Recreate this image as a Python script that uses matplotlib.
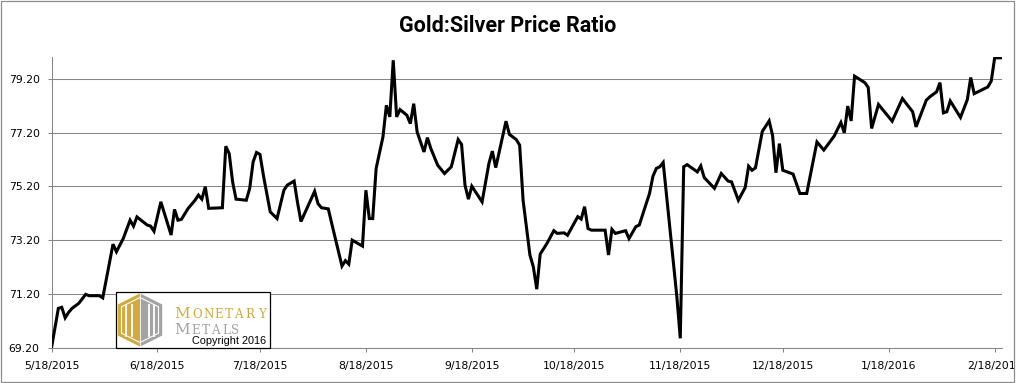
import matplotlib
matplotlib.use("Agg")
import matplotlib.pyplot as plt
from matplotlib.patches import Polygon, Rectangle
import numpy as np
import pandas as pd

# ---------------- data ----------------
dates = [
    "2015-05-18", "2015-05-20", "2015-05-21", "2015-05-22", "2015-05-23", "2015-05-24",
    "2015-05-26", "2015-05-28", "2015-05-29", "2015-06-01", "2015-06-02", "2015-06-05",
    "2015-06-06", "2015-06-08", "2015-06-10", "2015-06-11", "2015-06-12", "2015-06-15",
    "2015-06-16", "2015-06-17", "2015-06-19", "2015-06-22", "2015-06-23", "2015-06-24",
    "2015-06-25", "2015-06-27", "2015-06-29", "2015-06-30", "2015-07-01", "2015-07-02",
    "2015-07-03", "2015-07-07", "2015-07-08", "2015-07-09", "2015-07-10", "2015-07-11",
    "2015-07-14", "2015-07-15", "2015-07-16", "2015-07-17", "2015-07-18", "2015-07-19",
    "2015-07-21", "2015-07-23", "2015-07-25", "2015-07-26", "2015-07-28", "2015-07-29",
    "2015-07-30", "2015-08-03", "2015-08-04", "2015-08-05", "2015-08-07", "2015-08-08",
    "2015-08-11", "2015-08-12", "2015-08-13", "2015-08-14", "2015-08-17", "2015-08-18",
    "2015-08-19", "2015-08-20", "2015-08-21", "2015-08-23", "2015-08-24", "2015-08-25",
    "2015-08-26", "2015-08-27", "2015-08-28", "2015-08-30", "2015-08-31", "2015-09-01",
    "2015-09-02", "2015-09-04", "2015-09-05", "2015-09-06", "2015-09-08", "2015-09-10",
    "2015-09-12", "2015-09-14", "2015-09-15", "2015-09-16", "2015-09-17", "2015-09-18",
    "2015-09-21", "2015-09-23", "2015-09-24", "2015-09-25", "2015-09-28", "2015-09-29",
    "2015-10-01", "2015-10-02", "2015-10-03", "2015-10-05", "2015-10-06", "2015-10-07",
    "2015-10-08", "2015-10-10", "2015-10-12", "2015-10-13", "2015-10-15", "2015-10-16",
    "2015-10-19", "2015-10-20", "2015-10-21", "2015-10-22", "2015-10-23", "2015-10-27",
    "2015-10-28", "2015-10-29", "2015-10-30", "2015-11-02", "2015-11-03", "2015-11-05",
    "2015-11-06", "2015-11-09", "2015-11-10", "2015-11-11", "2015-11-12", "2015-11-13",
    "2015-11-17", "2015-11-18", "2015-11-19", "2015-11-20", "2015-11-23", "2015-11-24",
    "2015-11-25", "2015-11-28", "2015-11-30", "2015-12-02", "2015-12-03", "2015-12-05",
    "2015-12-07", "2015-12-08", "2015-12-09", "2015-12-10", "2015-12-12", "2015-12-14",
    "2015-12-15", "2015-12-16", "2015-12-17", "2015-12-18", "2015-12-21", "2015-12-23",
    "2015-12-25", "2015-12-28", "2015-12-30", "2016-01-02", "2016-01-04", "2016-01-05",
    "2016-01-06", "2016-01-07", "2016-01-08", "2016-01-11", "2016-01-12", "2016-01-13",
    "2016-01-15", "2016-01-19", "2016-01-22", "2016-01-25", "2016-01-26", "2016-01-29",
    "2016-01-30", "2016-02-01", "2016-02-02", "2016-02-03", "2016-02-04", "2016-02-05",
    "2016-02-08", "2016-02-10", "2016-02-11", "2016-02-12", "2016-02-16", "2016-02-17",
    "2016-02-18", "2016-02-20",
]
ratio = [
    69.22, 70.68, 70.72, 70.33, 70.53, 70.68,
    70.87, 71.20, 71.15, 71.15, 71.07, 73.06,
    72.78, 73.27, 73.95, 73.73, 74.07, 73.77,
    73.73, 73.54, 74.63, 73.40, 74.35, 73.95,
    73.98, 74.39, 74.69, 74.88, 74.73, 75.19,
    74.39, 74.41, 76.69, 76.42, 75.37, 74.73,
    74.69, 75.13, 76.11, 76.46, 76.39, 75.62,
    74.26, 74.01, 75.06, 75.25, 75.40, 74.60,
    73.90, 75.02, 74.56, 74.41, 74.37, 73.83,
    72.25, 72.45, 72.32, 73.21, 72.99, 75.06,
    74.01, 74.01, 75.87, 77.04, 78.21, 77.78,
    79.88, 77.78, 78.05, 77.84, 77.53, 78.27,
    77.22, 76.48, 77.01, 76.61, 75.99, 75.68,
    75.93, 76.94, 76.76, 75.25, 74.73, 75.21,
    74.63, 76.05, 76.51, 75.90, 77.62, 77.13,
    76.94, 76.73, 74.69, 72.66, 72.22, 71.39,
    72.69, 73.09, 73.56, 73.46, 73.48, 73.39,
    74.08, 73.99, 74.45, 73.64, 73.58, 73.58,
    72.66, 73.61, 73.46, 73.56, 73.27, 73.71,
    73.77, 74.94, 75.58, 75.87, 75.93, 76.09,
    71.11, 69.57, 75.93, 76.01, 75.74, 75.96,
    75.53, 75.13, 75.68, 75.40, 75.37, 74.69,
    75.16, 75.95, 75.80, 75.89, 77.24, 77.63,
    77.10, 75.71, 76.79, 75.80, 75.66, 74.94,
    74.94, 76.85, 76.55, 77.06, 77.57, 77.19,
    78.18, 77.63, 79.29, 79.05, 78.87, 77.35,
    78.24, 77.62, 78.46, 77.97, 77.41, 78.40,
    78.52, 78.71, 79.05, 77.93, 77.97, 78.37,
    77.76, 78.42, 79.24, 78.64, 78.89, 79.11,
    79.97, 79.97,
]
x_tick_dates = ["2015-05-18", "2015-06-18", "2015-07-18", "2015-08-18", "2015-09-18",
                "2015-10-18", "2015-11-18", "2015-12-18", "2016-01-18", "2016-02-18"]
x_tick_labels = ["5/18/2015", "6/18/2015", "7/18/2015", "8/18/2015", "9/18/2015",
                 "10/18/2015", "11/18/2015", "12/18/2015", "1/18/2016", "2/18/2016"]
y_ticks = [69.20, 71.20, 73.20, 75.20, 77.20, 79.20]
y_tick_labels = ["69.20", "71.20", "73.20", "75.20", "77.20", "79.20"]
title = "Gold:Silver Price Ratio"

# ---------------- figure ----------------
W, H = 1016, 383
fig = plt.figure(figsize=(W / 100, H / 100), dpi=100)
fig.patch.set_facecolor("white")

L, R, T, B = 51.5, 1001.5, 57.0, 348.3
ax = fig.add_axes([L / W, 1 - B / H, (R - L) / W, (B - T) / H])

grid_c = "#868686"
xd = pd.to_datetime(dates)
ax.plot(xd, ratio, color="black", lw=2.2, solid_joinstyle="miter", zorder=3)

ax.set_xlim(pd.Timestamp("2015-05-18"), pd.Timestamp("2016-02-20"))
ax.set_ylim(69.2, 80.0)

ax.set_yticks(y_ticks)
ax.set_yticklabels(y_tick_labels)
ax.set_xticks(pd.to_datetime(x_tick_dates))
ax.set_xticklabels(x_tick_labels)

ax.grid(axis="y", color=grid_c, lw=0.75, zorder=1)
for s in ["top", "right"]:
    ax.spines[s].set_visible(False)
for s in ["left", "bottom"]:
    ax.spines[s].set_color(grid_c)
    ax.spines[s].set_linewidth(0.75)
ax.tick_params(axis="both", color=grid_c, width=0.75, length=3.0,
               labelsize=7.8, labelcolor="black")
ax.tick_params(axis="y", pad=5.5)
ax.tick_params(axis="x", pad=6.5)
for lab in ax.get_xticklabels() + ax.get_yticklabels():
    lab.set_fontfamily("DejaVu Sans")

fig.text(508 / W, 1 - 26.5 / H, title, ha="center", va="center",
         fontsize=15.5, fontweight="bold", family="Roboto")

# ---------------- overlay (logo + border) ----------------
ov = fig.add_axes([0, 0, 1, 1], zorder=10)
ov.set_xlim(0, W)
ov.set_ylim(H, 0)
ov.axis("off")
ov.patch.set_alpha(0)

# logo box
ov.add_patch(Rectangle((115.7, 292.3), 154.3, 56.0, facecolor="white",
                       edgecolor="black", lw=0.9))
gold = "#D2AA3F"
grey = "#A3A3A3"
hx = [(140, 293.3), (140, 346.7), (117.8, 335.5), (117.8, 304.5)]
ov.add_patch(Polygon(hx, closed=True, facecolor=gold, edgecolor="none"))
hy = [(140, 293.3), (162.2, 304.5), (162.2, 335.5), (140, 346.7)]
ov.add_patch(Polygon(hy, closed=True, facecolor=grey, edgecolor="none"))
inner = [(140, 297.5), (158.5, 306.8), (158.5, 333.2), (140, 342.5),
         (121.5, 333.2), (121.5, 306.8), (140, 297.5)]
ix, iy = zip(*inner)
ov.plot(ix, iy, color="white", lw=0.8)
for xb in [126, 131.5, 148.5, 154]:
    ov.plot([xb, xb], [305, 336], color="white", lw=1.3)
ov.plot([140, 140], [293.3, 346.7], color="white", lw=0.6)

mon = ["M", "O", "N", "E", "T", "A", "R", "Y"]
mon_x = [182.3, 196.7, 208.3, 218.8, 228.7, 238.3, 250.0, 261.8]
for i, (ch, xc) in enumerate(zip(mon, mon_x)):
    ov.text(xc, 318.5, ch, ha="center", va="baseline", color=gold,
            family="DejaVu Serif", fontsize=11 if i == 0 else 8.6)
met = ["M", "E", "T", "A", "L", "S"]
met_x = [182.0, 195.5, 205.5, 215.3, 226.3, 235.0]
for i, (ch, xc) in enumerate(zip(met, met_x)):
    ov.text(xc, 333.6, ch, ha="center", va="baseline", color=grey,
            family="DejaVu Serif", fontsize=11 if i == 0 else 8.6)
ov.text(229.5, 343.6, "Copyright 2016", ha="center", va="baseline",
        color="black", family="Liberation Sans", fontsize=7.8)

# chart border
ov.add_patch(Rectangle((1013.5, 0), 3, H, facecolor="white", edgecolor="none"))
ov.add_patch(Rectangle((0.5, 0.5), 1013, 381, facecolor="none",
                       edgecolor="#8c8c8c", lw=0.9))

fig.savefig("out.png", dpi=100)
